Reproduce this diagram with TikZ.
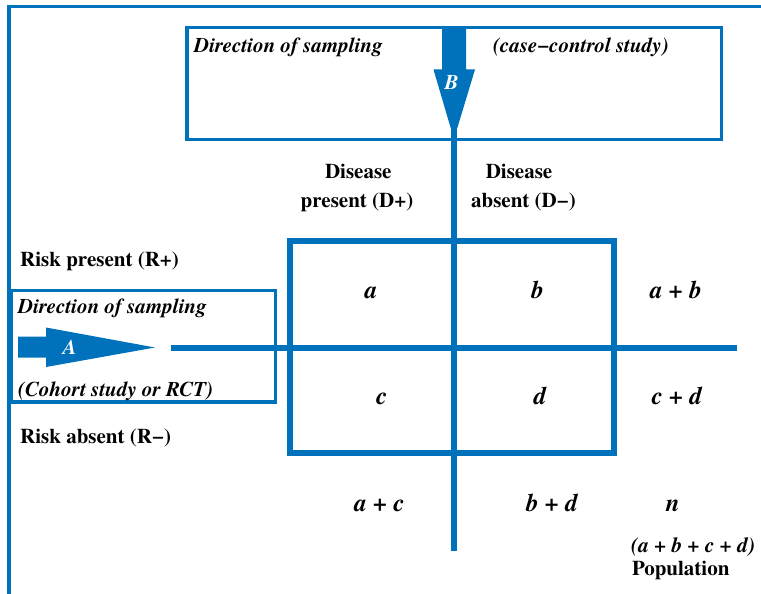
\documentclass[tikz,border=0pt]{standalone}
\usepackage{fontspec}
\setmainfont{texgyretermes}[Extension=.otf,UprightFont=*-regular,BoldFont=*-bold,ItalicFont=*-italic,BoldItalicFont=*-bolditalic]
\definecolor{blu}{RGB}{0,114,188}
\begin{document}
\begin{tikzpicture}[x=1pt,y=-1pt,
  txt/.style={inner sep=0pt, font=\fontsize{21}{25}\selectfont\bfseries},
  itx/.style={inner sep=0pt, font=\fontsize{21}{25}\selectfont\bfseries\itshape},
  letterx/.style={inner sep=0pt, font=\fontsize{21}{25}\selectfont\bfseries\itshape, text=white},
  cellx/.style={inner sep=0pt, font=\fontsize{25}{29}\selectfont\bfseries\itshape},
  sumx/.style={inner sep=0pt, font=\fontsize{21.3}{25}\selectfont\bfseries\itshape},
  frameline/.style={draw=blu, line width=3.3pt},
  tablebox/.style={draw=blu, line width=6pt},
  crossline/.style={draw=blu, line width=6.5pt},
  arrowfill/.style={fill=blu, draw=none}]
\useasboundingbox (0,0) rectangle (761,594);
% outer frame
\draw[frameline] (9,600) -- (9,6.7) -- (770,6.7);
% top box
\draw[frameline] (187,27.5) rectangle (721.5,139.5);
% left box
\draw[frameline] (11.5,290.5) rectangle (275.5,402);
% central box
\draw[tablebox] (290,241) rectangle (614,453);
% cross lines
\coordinate (vtop) at (454,127);
\coordinate (vbot) at (454,551);
\coordinate (hleft) at (171,348);
\coordinate (hright) at (737,348);
\draw[crossline] (vtop) -- (vbot);
\draw[crossline] (hleft) -- (hright);
% arrow B
\fill[arrowfill] (442,27.5) -- (466,27.5) -- (466,69.5) -- (475,69.5) -- (457.3,128) -- (450.7,128) -- (433.5,69.5) -- (442,69.5) -- cycle;
% arrow A
\fill[arrowfill] (18,336.5) -- (46,336.5) -- (46,327.5) -- (155,347.5) -- (46,367) -- (46,357.5) -- (18,357.5) -- cycle;
% texts
\node[itx, anchor=base west] (dirT) at (194,53) {Direction of sampling};
\node[itx, anchor=base west] (cc) at (493,53) {(case−control study)};
\node[letterx, anchor=base] (B) at (451.5,89) {B};
\node[txt, anchor=base] (d1a) at (358.3,178.3) {Disease};
\node[txt, anchor=base] (d1b) at (357,207.3) {present (D+)};
\node[txt, anchor=base] (d2a) at (519,178.3) {Disease};
\node[txt, anchor=base] (d2b) at (523.5,207.3) {absent (D−)};
\node[txt, anchor=base west] (rp) at (20,266) {Risk present (R+)};
\node[itx, anchor=base west] (dirL) at (18,313.3) {Direction of sampling};
\node[letterx, anchor=base] (A) at (70,354) {A};
\node[itx, anchor=base west] (coh) at (18,396.7) {(Cohort study or RCT)};
\node[txt, anchor=base west] (ra) at (20,443) {Risk absent (R−)};
\node[cellx, anchor=base] (ca) at (371,298.3) {a};
\node[cellx, anchor=base] (cb) at (537.5,298.3) {b};
\node[cellx, anchor=base] (cab) at (676,298.3) {a + b};
\node[cellx, anchor=base] (cc2) at (382,404.3) {c};
\node[cellx, anchor=base] (cd) at (540,404.3) {d};
\node[cellx, anchor=base] (ccd) at (677,404.3) {c + d};
\node[cellx, anchor=base] (cac) at (379.5,511.7) {a + c};
\node[cellx, anchor=base] (cbd) at (552,511.7) {b + d};
\node[cellx, anchor=base] (cn) at (672.7,511.7) {n};
\node[sumx, anchor=base west] (sum) at (631,552) {(a + b + c + d)};
\node[txt, anchor=base west] (pop) at (632,575) {Population};
\end{tikzpicture}
\end{document}
